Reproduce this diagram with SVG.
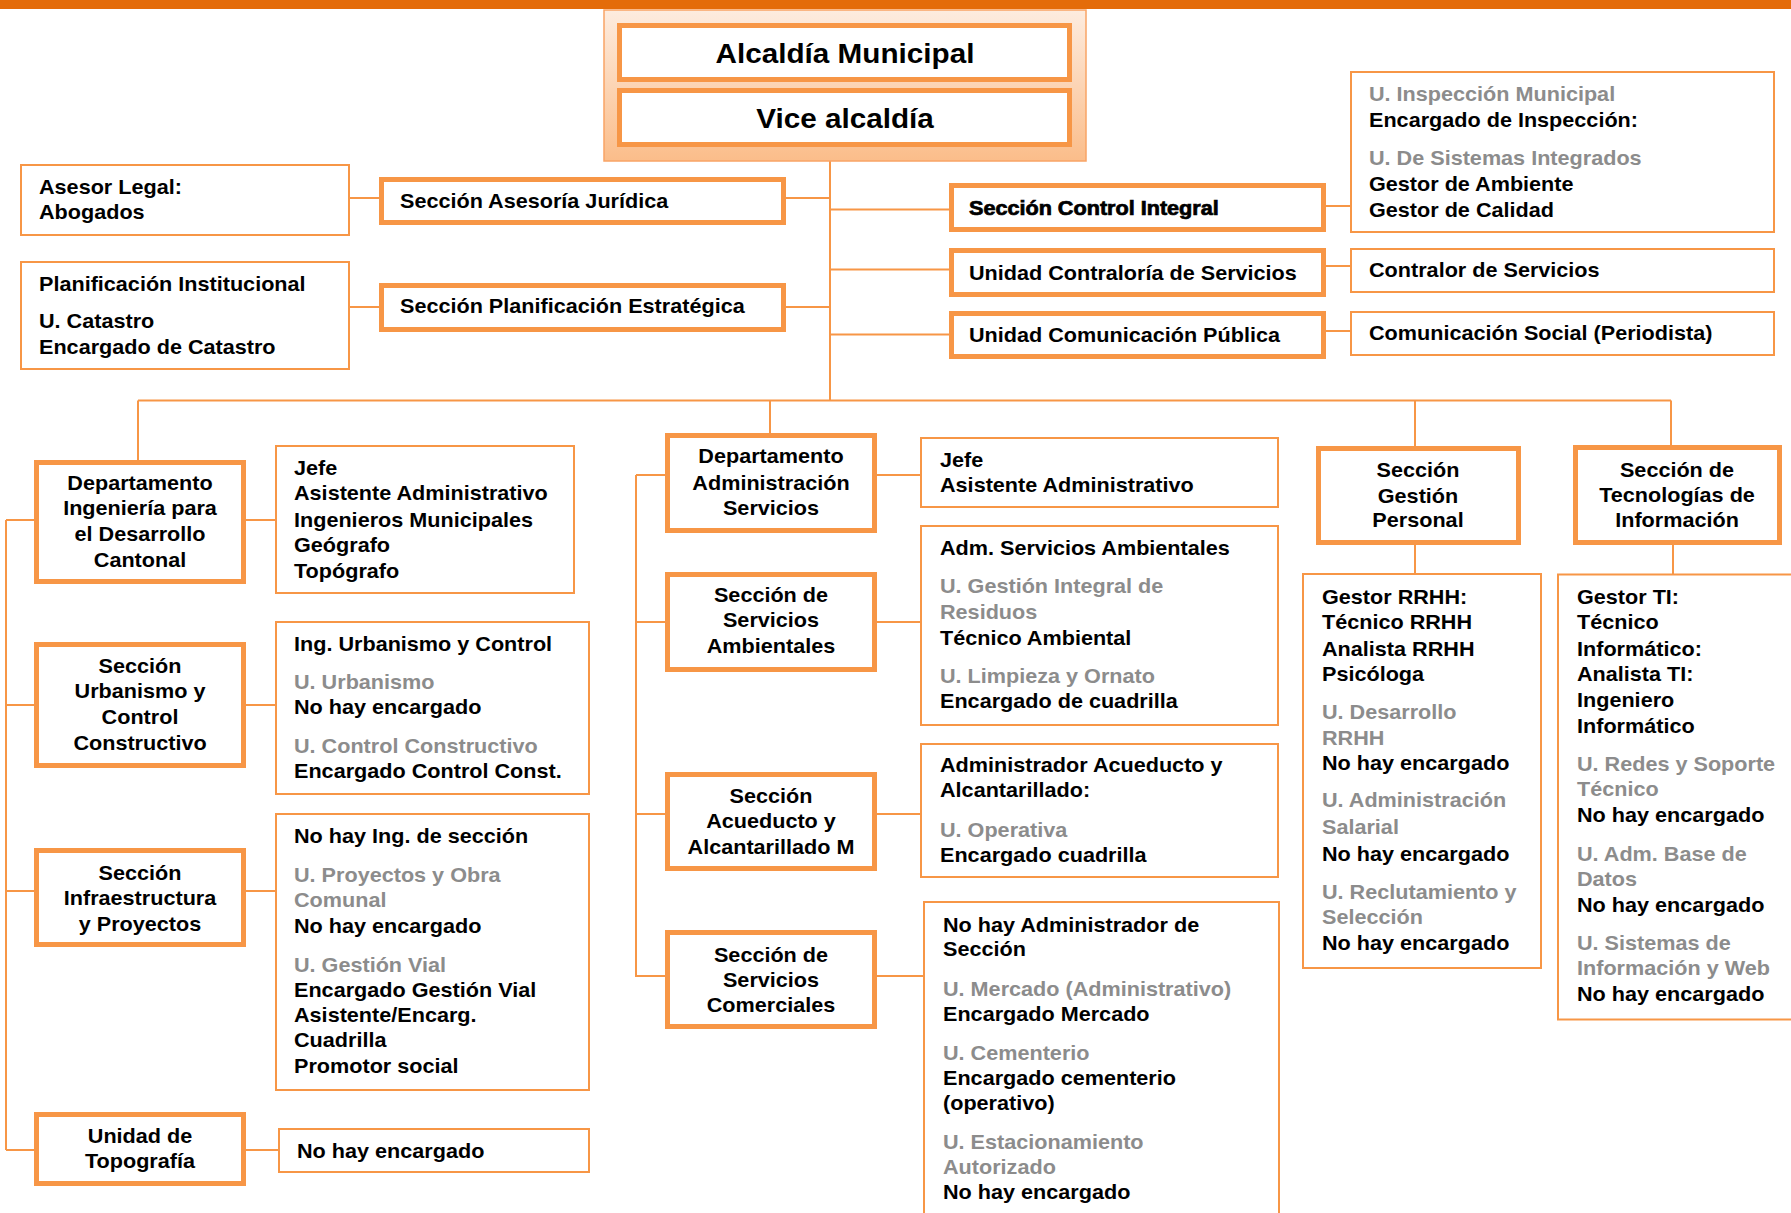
<svg xmlns="http://www.w3.org/2000/svg" width="1791" height="1213" viewBox="0 0 1791 1213">
<defs>
<linearGradient id="topgrad" x1="0" y1="0" x2="0" y2="1">
<stop offset="0" stop-color="#FDECDF"/>
<stop offset="1" stop-color="#FBBD8A"/>
</linearGradient>
<style>
.thick{fill:#fff;stroke:#F79646;stroke-width:5}
.thin{fill:#fff;stroke:#F79646;stroke-width:2}
.con{stroke:#F79646;stroke-width:2;fill:none}
text{font-family:"Liberation Sans",Arial,sans-serif;font-weight:bold;font-size:19.3px;fill:#000}
.big{font-size:28px}
.c{text-anchor:middle}
.g{fill:#8C8C8C}
.heavy{stroke:#000;stroke-width:0.7}
</style>
</defs>
<rect x="0" y="0" width="1791" height="9" fill="#E46C0A"/>

<g id="connectors">
<path class="con" d="M830 161V400.5M138 400.5H1671M138 400.5V460M770 400.5V433M1415 400.5V446M1671 400.5V445"/>
<path class="con" d="M350 198H379M786 198H830M350 307H379M786 307H830"/>
<path class="con" d="M830 209.5H949M830 269.5H949M830 334.5H949M1326 206H1350M1326 266H1350M1326 331H1350"/>
<path class="con" d="M6 520V1150M6 520H34M6 705H34M6 891H34M6 1150H34M246 520H275M246 705H275M246 891H275M246 1150H278"/>
<path class="con" d="M636 475V977M636 475H665M636 622H665M636 814H665M636 976H665M877 475H920M877 622H920M877 814H920M877 976H923"/>
<path class="con" d="M1415 545V573M1673 545V574"/>
</g>

<g id="top">
<rect x="604" y="10" width="482" height="151" fill="url(#topgrad)" stroke="#F9A466" stroke-width="1.5"/>
<g id="alcaldia">
<rect class="thick" x="619.5" y="25.5" width="450" height="54"/>
<text class="big c" transform="translate(845 0) scale(1.06 1)"><tspan x="0" y="63">Alcaldía Municipal</tspan></text>
</g>
<g id="vice">
<rect class="thick" x="619.5" y="90.5" width="450" height="54"/>
<text class="big c" transform="translate(845 0) scale(1.06 1)"><tspan x="0" y="128">Vice alcaldía</tspan></text>
</g>
</g>

<g id="asesor-legal">
<rect class="thin" x="21" y="165" width="328" height="70"/>
<text transform="translate(39 0) scale(1.12 1)"><tspan x="0" y="194">Asesor Legal:</tspan><tspan x="0" y="219">Abogados</tspan></text>
</g>
<g id="asesoria-juridica">
<rect class="thick" x="381.5" y="179.5" width="402" height="43"/>
<text transform="translate(400 0) scale(1.12 1)"><tspan x="0" y="208">Sección Asesoría Jurídica</tspan></text>
</g>
<g id="planificacion-inst">
<rect class="thin" x="21" y="262" width="328" height="107"/>
<text transform="translate(39 0) scale(1.12 1)"><tspan x="0" y="291">Planificación Institucional</tspan><tspan x="0" y="328">U. Catastro</tspan><tspan x="0" y="354">Encargado de Catastro</tspan></text>
</g>
<g id="planificacion-estrategica">
<rect class="thick" x="381.5" y="285.5" width="402" height="44"/>
<text transform="translate(400 0) scale(1.12 1)"><tspan x="0" y="313">Sección Planificación Estratégica</tspan></text>
</g>

<g id="control-integral">
<rect class="thick" x="951.5" y="185.5" width="372" height="44"/>
<text class="heavy" transform="translate(969 0) scale(1.12 1)"><tspan x="0" y="215">Sección Control Integral</tspan></text>
</g>
<g id="inspeccion">
<rect class="thin" x="1351" y="72" width="423" height="160"/>
<text transform="translate(1369 0) scale(1.12 1)"><tspan class="g" x="0" y="101">U. Inspección Municipal</tspan><tspan x="0" y="127">Encargado de Inspección:</tspan><tspan class="g" x="0" y="165">U. De Sistemas Integrados</tspan><tspan x="0" y="191">Gestor de Ambiente</tspan><tspan x="0" y="217">Gestor de Calidad</tspan></text>
</g>
<g id="contraloria">
<rect class="thick" x="951.5" y="250.5" width="372" height="44"/>
<text transform="translate(969 0) scale(1.12 1)"><tspan x="0" y="280">Unidad Contraloría de Servicios</tspan></text>
</g>
<g id="contralor">
<rect class="thin" x="1351" y="249" width="423" height="43"/>
<text transform="translate(1369 0) scale(1.12 1)"><tspan x="0" y="277">Contralor de Servicios</tspan></text>
</g>
<g id="comunicacion">
<rect class="thick" x="951.5" y="313.5" width="372" height="43"/>
<text transform="translate(969 0) scale(1.12 1)"><tspan x="0" y="342">Unidad Comunicación Pública</tspan></text>
</g>
<g id="comunicacion-social">
<rect class="thin" x="1351" y="312" width="423" height="43"/>
<text transform="translate(1369 0) scale(1.12 1)"><tspan x="0" y="340">Comunicación Social (Periodista)</tspan></text>
</g>

<g id="dept-ingenieria">
<rect class="thick" x="36.5" y="462.5" width="207" height="119"/>
<text class="c" transform="translate(140 0) scale(1.12 1)"><tspan x="0" y="490">Departamento</tspan><tspan x="0" y="515">Ingeniería para</tspan><tspan x="0" y="541">el Desarrollo</tspan><tspan x="0" y="567">Cantonal</tspan></text>
</g>
<g id="ingenieria-personal">
<rect class="thin" x="276" y="446" width="298" height="147"/>
<text transform="translate(294 0) scale(1.12 1)"><tspan x="0" y="475">Jefe</tspan><tspan x="0" y="500">Asistente Administrativo</tspan><tspan x="0" y="527">Ingenieros Municipales</tspan><tspan x="0" y="552">Geógrafo</tspan><tspan x="0" y="578">Topógrafo</tspan></text>
</g>
<g id="urbanismo">
<rect class="thick" x="36.5" y="644.5" width="207" height="121"/>
<text class="c" transform="translate(140 0) scale(1.12 1)"><tspan x="0" y="673">Sección</tspan><tspan x="0" y="698">Urbanismo y</tspan><tspan x="0" y="724">Control</tspan><tspan x="0" y="750">Constructivo</tspan></text>
</g>
<g id="urbanismo-personal">
<rect class="thin" x="276" y="622" width="313" height="172"/>
<text transform="translate(294 0) scale(1.12 1)"><tspan x="0" y="651">Ing. Urbanismo y Control</tspan><tspan class="g" x="0" y="689">U. Urbanismo</tspan><tspan x="0" y="714">No hay encargado</tspan><tspan class="g" x="0" y="753">U. Control Constructivo</tspan><tspan x="0" y="778">Encargado Control Const.</tspan></text>
</g>
<g id="infraestructura">
<rect class="thick" x="36.5" y="850.5" width="207" height="94"/>
<text class="c" transform="translate(140 0) scale(1.12 1)"><tspan x="0" y="880">Sección</tspan><tspan x="0" y="905">Infraestructura</tspan><tspan x="0" y="931">y Proyectos</tspan></text>
</g>
<g id="infraestructura-personal">
<rect class="thin" x="276" y="814" width="313" height="276"/>
<text transform="translate(294 0) scale(1.12 1)"><tspan x="0" y="843">No hay Ing. de sección</tspan><tspan class="g" x="0" y="882">U. Proyectos y Obra</tspan><tspan class="g" x="0" y="907">Comunal</tspan><tspan x="0" y="933">No hay encargado</tspan><tspan class="g" x="0" y="972">U. Gestión Vial</tspan><tspan x="0" y="997">Encargado Gestión Vial</tspan><tspan x="0" y="1022">Asistente/Encarg.</tspan><tspan x="0" y="1047">Cuadrilla</tspan><tspan x="0" y="1073">Promotor social</tspan></text>
</g>
<g id="topografia">
<rect class="thick" x="36.5" y="1114.5" width="207" height="69"/>
<text class="c" transform="translate(140 0) scale(1.12 1)"><tspan x="0" y="1143">Unidad de</tspan><tspan x="0" y="1168">Topografía</tspan></text>
</g>
<g id="topografia-personal">
<rect class="thin" x="279" y="1129" width="310" height="43"/>
<text transform="translate(297 0) scale(1.12 1)"><tspan x="0" y="1158">No hay encargado</tspan></text>
</g>

<g id="dept-admin">
<rect class="thick" x="667.5" y="435.5" width="207" height="95"/>
<text class="c" transform="translate(771 0) scale(1.12 1)"><tspan x="0" y="463">Departamento</tspan><tspan x="0" y="490">Administración</tspan><tspan x="0" y="515">Servicios</tspan></text>
</g>
<g id="admin-personal">
<rect class="thin" x="921" y="438" width="357" height="69"/>
<text transform="translate(940 0) scale(1.12 1)"><tspan x="0" y="467">Jefe</tspan><tspan x="0" y="492">Asistente Administrativo</tspan></text>
</g>
<g id="ambientales">
<rect class="thick" x="667.5" y="574.5" width="207" height="95"/>
<text class="c" transform="translate(771 0) scale(1.12 1)"><tspan x="0" y="602">Sección de</tspan><tspan x="0" y="627">Servicios</tspan><tspan x="0" y="653">Ambientales</tspan></text>
</g>
<g id="ambientales-personal">
<rect class="thin" x="921" y="526" width="357" height="199"/>
<text transform="translate(940 0) scale(1.12 1)"><tspan x="0" y="555">Adm. Servicios Ambientales</tspan><tspan class="g" x="0" y="593">U. Gestión Integral de</tspan><tspan class="g" x="0" y="619">Residuos</tspan><tspan x="0" y="645">Técnico Ambiental</tspan><tspan class="g" x="0" y="683">U. Limpieza y Ornato</tspan><tspan x="0" y="708">Encargado de cuadrilla</tspan></text>
</g>
<g id="acueducto">
<rect class="thick" x="667.5" y="774.5" width="207" height="94"/>
<text class="c" transform="translate(771 0) scale(1.12 1)"><tspan x="0" y="803">Sección</tspan><tspan x="0" y="828">Acueducto y</tspan><tspan x="0" y="854">Alcantarillado M</tspan></text>
</g>
<g id="acueducto-personal">
<rect class="thin" x="921" y="744" width="357" height="133"/>
<text transform="translate(940 0) scale(1.12 1)"><tspan x="0" y="772">Administrador Acueducto y</tspan><tspan x="0" y="797">Alcantarillado:</tspan><tspan class="g" x="0" y="837">U. Operativa</tspan><tspan x="0" y="862">Encargado cuadrilla</tspan></text>
</g>
<g id="comerciales">
<rect class="thick" x="667.5" y="932.5" width="207" height="94"/>
<text class="c" transform="translate(771 0) scale(1.12 1)"><tspan x="0" y="962">Sección de</tspan><tspan x="0" y="987">Servicios</tspan><tspan x="0" y="1012">Comerciales</tspan></text>
</g>
<g id="comerciales-personal">
<rect class="thin" x="924" y="902" width="355" height="330"/>
<text transform="translate(943 0) scale(1.12 1)"><tspan x="0" y="932">No hay Administrador de</tspan><tspan x="0" y="956">Sección</tspan><tspan class="g" x="0" y="996">U. Mercado (Administrativo)</tspan><tspan x="0" y="1021">Encargado Mercado</tspan><tspan class="g" x="0" y="1060">U. Cementerio</tspan><tspan x="0" y="1085">Encargado cementerio</tspan><tspan x="0" y="1110">(operativo)</tspan><tspan class="g" x="0" y="1149">U. Estacionamiento</tspan><tspan class="g" x="0" y="1174">Autorizado</tspan><tspan x="0" y="1199">No hay encargado</tspan></text>
</g>

<g id="gestion-personal">
<rect class="thick" x="1318.5" y="448.5" width="200" height="94"/>
<text class="c" transform="translate(1418 0) scale(1.12 1)"><tspan x="0" y="477">Sección</tspan><tspan x="0" y="503">Gestión</tspan><tspan x="0" y="527">Personal</tspan></text>
</g>
<g id="rrhh-personal">
<rect class="thin" x="1303" y="574" width="238" height="394"/>
<text transform="translate(1322 0) scale(1.12 1)"><tspan x="0" y="604">Gestor RRHH:</tspan><tspan x="0" y="629">Técnico RRHH</tspan><tspan x="0" y="656">Analista RRHH</tspan><tspan x="0" y="681">Psicóloga</tspan><tspan class="g" x="0" y="719">U. Desarrollo</tspan><tspan class="g" x="0" y="745">RRHH</tspan><tspan x="0" y="770">No hay encargado</tspan><tspan class="g" x="0" y="807">U. Administración</tspan><tspan class="g" x="0" y="834">Salarial</tspan><tspan x="0" y="861">No hay encargado</tspan><tspan class="g" x="0" y="899">U. Reclutamiento y</tspan><tspan class="g" x="0" y="924">Selección</tspan><tspan x="0" y="950">No hay encargado</tspan></text>
</g>
<g id="tecnologias">
<rect class="thick" x="1575.5" y="447.5" width="204" height="95"/>
<text class="c" transform="translate(1677 0) scale(1.12 1)"><tspan x="0" y="477">Sección de</tspan><tspan x="0" y="502">Tecnologías de</tspan><tspan x="0" y="527">Información</tspan></text>
</g>
<g id="ti-personal">
<rect class="thin" x="1558" y="574.5" width="240" height="445"/>
<text transform="translate(1577 0) scale(1.12 1)"><tspan x="0" y="604">Gestor TI:</tspan><tspan x="0" y="629">Técnico</tspan><tspan x="0" y="656">Informático:</tspan><tspan x="0" y="681">Analista TI:</tspan><tspan x="0" y="707">Ingeniero</tspan><tspan x="0" y="733">Informático</tspan><tspan class="g" x="0" y="771">U. Redes y Soporte</tspan><tspan class="g" x="0" y="796">Técnico</tspan><tspan x="0" y="822">No hay encargado</tspan><tspan class="g" x="0" y="861">U. Adm. Base de</tspan><tspan class="g" x="0" y="886">Datos</tspan><tspan x="0" y="912">No hay encargado</tspan><tspan class="g" x="0" y="950">U. Sistemas de</tspan><tspan class="g" x="0" y="975">Información y Web</tspan><tspan x="0" y="1001">No hay encargado</tspan></text>
</g>
</svg>
